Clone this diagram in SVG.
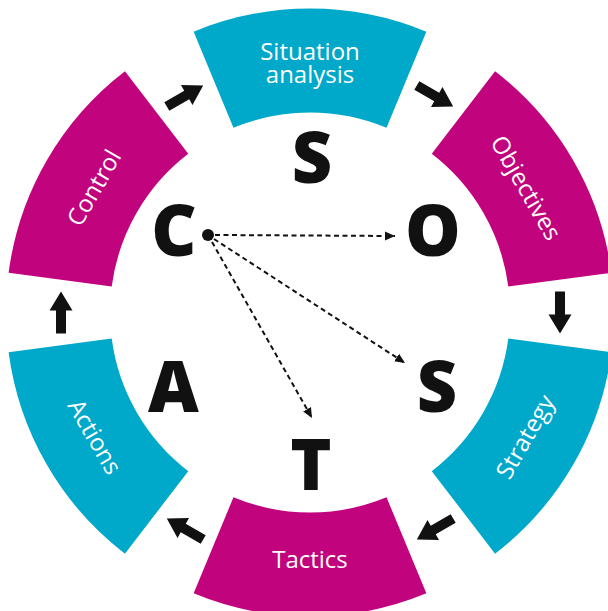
<svg xmlns="http://www.w3.org/2000/svg" width="608" height="611" viewBox="0 0 608 611">
<style>
.cyan{fill:#00A8CA}
.mag{fill:#C2037E}
.lbl{fill:#ffffff;font-family:"Open Sans","Liberation Sans",sans-serif;font-size:24px;text-anchor:middle}
.big{fill:#111111;font-family:"Open Sans","Liberation Sans",sans-serif;font-size:70px;font-weight:800;text-anchor:middle}
.dash{stroke:#111111;stroke-width:2;stroke-dasharray:5 3.5;fill:none}
.arw{fill:#111111}
</style>
<defs>
<path id="bigarrow" d="M-21,-5 H2 V-11.5 L21,0 L2,11.5 V5 H-21 Z"/>
<marker id="ah" markerWidth="11" markerHeight="10" refX="10" refY="5" orient="auto" markerUnits="userSpaceOnUse">
<path d="M0,0.5 L10,5 L0,9.5 Z" fill="#111111"/>
</marker>
</defs>
<rect width="608" height="611" fill="#ffffff"/>

<g id="node-situation">
<path class="cyan" d="M193.66,31.64 A304,304 0 0 1 426.34,31.64 L386.54,127.72 A200,200 0 0 0 233.46,127.72 Z"/>
<text class="lbl"><tspan x="310" y="60">Situation</tspan><tspan x="310" y="83">analysis</tspan></text>
</g>
<g id="node-objectives">
<path class="mag" d="M495.06,71.32 A304,304 0 0 1 611.40,272.82 L508.29,286.39 A200,200 0 0 0 431.75,153.83 Z"/>
<text class="lbl" transform="translate(525.6,188) rotate(60)" x="0" y="8">Objectives</text>
</g>
<g id="node-strategy">
<path class="cyan" d="M611.40,352.18 A304,304 0 0 1 495.06,553.68 L431.75,471.17 A200,200 0 0 0 508.29,338.61 Z"/>
<text class="lbl" transform="translate(525.6,437) rotate(-60)" x="0" y="8">Strategy</text>
</g>
<g id="node-tactics">
<path class="mag" d="M426.34,593.36 A304,304 0 0 1 193.66,593.36 L233.46,497.28 A200,200 0 0 0 386.54,497.28 Z"/>
<text class="lbl" x="310" y="568">Tactics</text>
</g>
<g id="node-actions">
<path class="cyan" d="M124.94,553.68 A304,304 0 0 1 8.60,352.18 L111.71,338.61 A200,200 0 0 0 188.25,471.17 Z"/>
<text class="lbl" transform="translate(94.4,437) rotate(60)" x="0" y="8">Actions</text>
</g>
<g id="node-control">
<path class="mag" d="M8.60,272.82 A304,304 0 0 1 124.94,71.32 L188.25,153.83 A200,200 0 0 0 111.71,286.39 Z"/>
<text class="lbl" transform="translate(94.4,188) rotate(-60)" x="0" y="8">Control</text>
</g>

<g id="letters">
<text class="big" x="312" y="183">S</text>
<text class="big" x="433" y="256">O</text>
<text class="big" x="437" y="412">S</text>
<text class="big" x="311" y="490">T</text>
<text class="big" x="173.5" y="412">A</text>
<text class="big" x="174" y="256">C</text>
</g>

<g id="connectors">
<use href="#bigarrow" class="arw" transform="translate(185,96) rotate(-30)"/>
<use href="#bigarrow" class="arw" transform="translate(435,96) rotate(30)"/>
<use href="#bigarrow" class="arw" transform="translate(560,312.5) rotate(90)"/>
<use href="#bigarrow" class="arw" transform="translate(435,529) rotate(150)"/>
<use href="#bigarrow" class="arw" transform="translate(185,529) rotate(210)"/>
<use href="#bigarrow" class="arw" transform="translate(61,312.5) rotate(270)"/>
<circle cx="208" cy="235" r="6" fill="#111111"/>
<line class="dash" x1="215" y1="235" x2="395" y2="236" marker-end="url(#ah)"/>
<line class="dash" x1="214" y1="239" x2="405" y2="363" marker-end="url(#ah)"/>
<line class="dash" x1="212" y1="242" x2="312" y2="418" marker-end="url(#ah)"/>
</g>
</svg>
